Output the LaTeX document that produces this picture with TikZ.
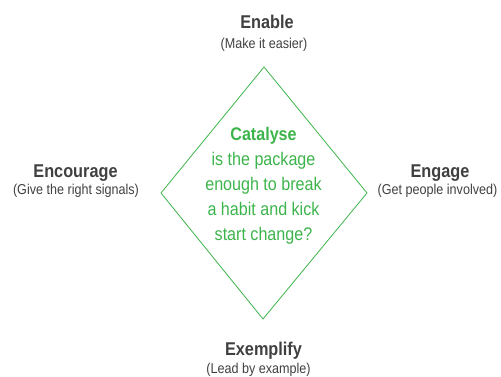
\documentclass[tikz,border=0pt]{standalone}
\usepackage{fontspec}
\setmainfont{Liberation Sans}[FakeStretch=0.88]
\usepackage{tikz}
\usetikzlibrary{positioning}
\definecolor{catgreen}{RGB}{60,180,75}
\definecolor{txtgray}{RGB}{64,64,64}

\tikzset{
  head/.style={text=txtgray, font=\fontsize{18.5}{22}\selectfont\bfseries, inner sep=0pt, anchor=base},
  sub/.style={text=txtgray, font=\fontsize{14.3}{17}\selectfont, inner sep=0pt, anchor=base},
}

\begin{document}
\begin{tikzpicture}[x=1pt,y=1pt]
\useasboundingbox (0,0) rectangle (501,376);

% diamond
\coordinate (top) at (264,309);
\coordinate (right) at (367,183);
\coordinate (bottom) at (263,57);
\coordinate (left) at (161,183);
\draw[catgreen, line width=0.8pt, line join=round] (top) -- (right) -- (bottom) -- (left) -- cycle;

% centre text
\node[text=catgreen, align=center, inner sep=0pt, font=\fontsize{18.3}{25}\selectfont] (catalyse) at (263.5,189.8)
  {\textbf{Catalyse}\\is the package\\enough to break\\a habit and kick\\start change?};

% the four labels
\node[head] (enable) at (267,348) {Enable};
\node[sub] (enablesub) at (264,327) {(Make it easier)};
\node[head] (encourage) at (75.5,199) {Encourage};
\node[sub] (encouragesub) at (76,182) {(Give the right signals)};
\node[head] (engage) at (440,199) {Engage};
\node[sub] (engagesub) at (437.5,182) {(Get people involved)};
\node[head] (exemplify) at (263.5,21) {Exemplify};
\node[sub] (exemplifysub) at (258.5,3) {(Lead by example)};
\end{tikzpicture}
\end{document}
